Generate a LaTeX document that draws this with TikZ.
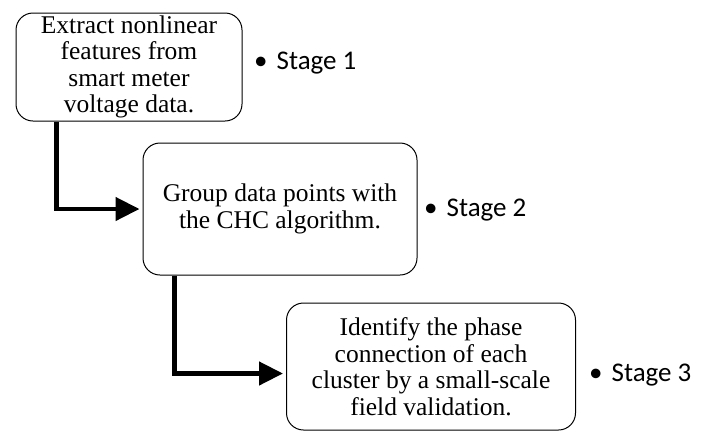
\documentclass[tikz,border=0pt]{standalone}
\usepackage{fontspec}
\setmainfont{Liberation Serif}
\newfontfamily\stagefont{Carlito}
\usetikzlibrary{arrows.meta}
\begin{document}
\begin{tikzpicture}[x=1pt,y=1pt,
  box/.style={draw=black, line width=1pt, rounded corners=17pt, align=center,
    font=\fontsize{25.5}{26.5}\selectfont, inner sep=0pt},
  stagelbl/.style={anchor=west, font=\stagefont\fontsize{27}{30}\selectfont, inner sep=0pt},
  arr/.style={line width=4.5pt, -{Triangle[length=24pt,width=23pt]}}]
\useasboundingbox (0,0) rectangle (709,-432);
\node[box, minimum width=226pt, minimum height=108pt] (b1) at (129,-67)
  {Extract nonlinear\\features from\\smart meter\\voltage data.};
\node[box, minimum width=274pt, minimum height=132pt] (b2) at (280,-209)
  {Group data points with\\the CHC algorithm.};
\node[box, minimum width=289pt, minimum height=127pt] (b3) at (431,-366.5)
  {Identify the phase\\connection of each\\cluster by a small-scale\\field validation.};
\node[stagelbl] (s1) at (254,-63) {\textbullet\hspace{9pt}Stage 1};
\node[stagelbl] (s2) at (424,-210) {\textbullet\hspace{9pt}Stage 2};
\node[stagelbl] (s3) at (589,-375) {\textbullet\hspace{9pt}Stage 3};
\draw[arr] ([xshift=41pt]b1.south west) |- ([xshift=-3pt]b2.west);
\draw[arr] ([xshift=32pt]b2.south west) |- ([xshift=-3pt,yshift=-7pt]b3.west);
\end{tikzpicture}
\end{document}
